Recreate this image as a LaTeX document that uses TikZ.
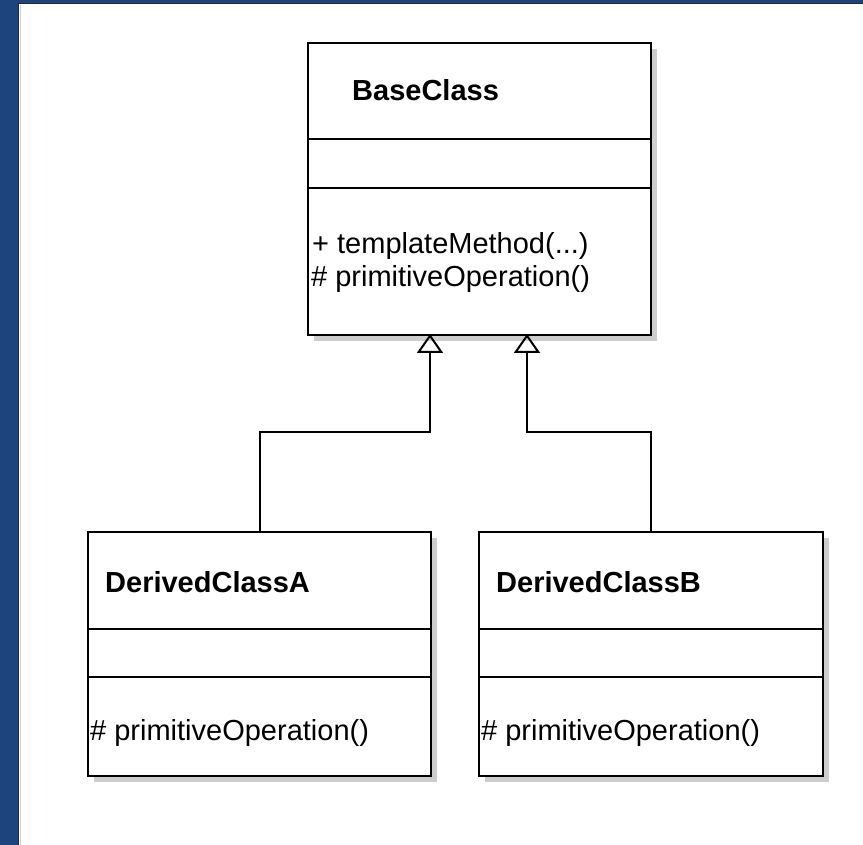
\documentclass[tikz,border=0pt]{standalone}
\usepackage{fontspec}
\setmainfont{Liberation Sans}
\usetikzlibrary{arrows.meta,shadows}
\definecolor{frameblue}{RGB}{30,68,125}
\definecolor{shadowgray}{RGB}{205,205,205}
\tikzset{
  classbox/.style={draw=black, line width=2pt, fill=white, anchor=north west, inner sep=0pt,
    drop shadow={shadow xshift=6pt, shadow yshift=-6pt, fill=shadowgray, opacity=1}},
  divider/.style={draw=black, line width=2pt},
  gen/.style={draw=black, line width=2pt, -{Triangle[open, length=19pt, width=26pt, line width=2pt]}},
  cname/.style={anchor=base west, inner sep=0pt, font=\fontsize{29}{34}\selectfont\bfseries},
  member/.style={anchor=base west, inner sep=0pt, font=\fontsize{29}{34}\selectfont},
}
\begin{document}
\begin{tikzpicture}[x=1pt,y=-1pt]
\useasboundingbox (0,0) rectangle (863,845);
\fill[white] (0,0) rectangle (863,845);
% frame
\fill[frameblue] (0,0) rectangle (19,845);
\fill[frameblue] (0,0) rectangle (863,4);
\draw[black!85, line width=1.2pt] (18.5,845) -- (18.5,3.5) -- (863,3.5);
\draw[black!20, line width=1pt] (20.5,845) -- (20.5,5);

% BaseClass
\node[classbox, minimum width=343pt, minimum height=292pt] (base) at (307,42) {};
\draw[divider] (base.west |- 0,139) -- (base.east |- 0,139);
\draw[divider] (base.west |- 0,188) -- (base.east |- 0,188);
\node[cname] (basename) at (352,101) {BaseClass};
\node[member] (basem1) at (312,254) {+ templateMethod(...)};
\node[member] (basem2) at (311,287) {\# primitiveOperation()};

% DerivedClassA
\node[classbox, minimum width=343pt, minimum height=244pt] (a) at (87,531) {};
\draw[divider] (a.west |- 0,629) -- (a.east |- 0,629);
\draw[divider] (a.west |- 0,677) -- (a.east |- 0,677);
\node[cname] (aname) at (105,592) {DerivedClassA};
\node[member] (am1) at (90,740) {\# primitiveOperation()};

% DerivedClassB
\node[classbox, minimum width=344pt, minimum height=244pt] (b) at (478,531) {};
\draw[divider] (b.west |- 0,629) -- (b.east |- 0,629);
\draw[divider] (b.west |- 0,677) -- (b.east |- 0,677);
\node[cname] (bname) at (496,592) {DerivedClassB};
\node[member] (bm1) at (481,740) {\# primitiveOperation()};

% generalization connectors
\coordinate (ta) at (430,334);
\coordinate (tb) at (527,334);
\draw[gen] (a.north) -- (a.north |- 0,432) -| (ta);
\draw[gen] (b.north) -- (b.north |- 0,432) -| (tb);
\end{tikzpicture}
\end{document}
